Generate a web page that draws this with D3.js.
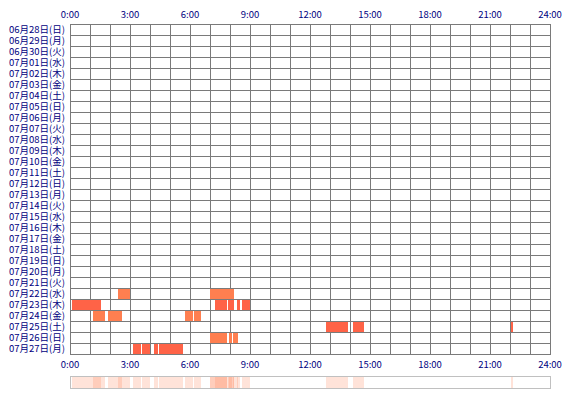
<!DOCTYPE html>
<html>
<head>
<meta charset="utf-8">
<script src="https://cdn.jsdelivr.net/npm/d3@7"></script>
<style>
  body { margin: 0; background: #fff; }
  svg text { font-family: "Noto Sans CJK JP", "DejaVu Sans", sans-serif; fill: #000080; }
</style>
</head>
<body>
<svg id="chart" width="570" height="400"></svg>
<script>
// date rows, top to bottom
const dayLabels = [
    "06月28日(日)", "06月29日(月)", "06月30日(火)", "07月01日(水)", "07月02日(木)",
    "07月03日(金)", "07月04日(土)", "07月05日(日)", "07月06日(月)", "07月07日(火)",
    "07月08日(水)", "07月09日(木)", "07月10日(金)", "07月11日(土)", "07月12日(日)",
    "07月13日(月)", "07月14日(火)", "07月15日(水)", "07月16日(木)", "07月17日(金)",
    "07月18日(土)", "07月19日(日)", "07月20日(月)", "07月21日(火)", "07月22日(水)",
    "07月23日(木)", "07月24日(金)", "07月25日(土)", "07月26日(日)", "07月27日(月)"
];

const hourTicks = [0, 3, 6, 9, 12, 15, 18, 21, 24];

// [day, start hour, end hour]
const sessions = [
    ["07月22日(水)", 2.42, 3.0], ["07月22日(水)", 7.0, 8.2],
    ["07月23日(木)", 0.1, 1.55], ["07月23日(木)", 7.25, 7.85], ["07月23日(木)", 7.9, 8.2],
    ["07月23日(木)", 8.35, 8.5], ["07月23日(木)", 8.58, 9.0],
    ["07月24日(金)", 1.15, 1.75], ["07月24日(金)", 1.9, 2.6], ["07月24日(金)", 5.75, 6.15],
    ["07月24日(金)", 6.2, 6.55],
    ["07月25日(土)", 12.8, 13.9], ["07月25日(土)", 14.15, 14.7], ["07月25日(土)", 22.05, 22.15],
    ["07月26日(日)", 7.0, 7.85], ["07月26日(日)", 7.95, 8.1], ["07月26日(日)", 8.15, 8.4],
    ["07月27日(月)", 3.15, 3.55], ["07月27日(月)", 3.6, 4.0], ["07月27日(月)", 4.2, 4.4],
    ["07月27日(月)", 4.45, 5.65]
];

const svg = d3.select("#chart");

const x = d3.scaleLinear().domain([0, 24]).range([70, 550]);
const y = d3.scaleBand().domain(dayLabels).range([24, 354]).padding(0);

// row colours alternate
const rowColor = d => dayLabels.indexOf(d) % 2 === 0 ? "#ff7f50" : "#ff6347";

// GRID
const grid = svg.append("g").attr("shape-rendering", "crispEdges").attr("stroke", "#7a7a7a");
grid.selectAll("line.v")
    .data(d3.range(0, 25))
    .enter().append("line")
    .attr("x1", d => Math.round(x(d)) + 0.5)
    .attr("x2", d => Math.round(x(d)) + 0.5)
    .attr("y1", y.range()[0])
    .attr("y2", y.range()[1] + 1);
grid.selectAll("line.h")
    .data(dayLabels.map(d => y(d)).concat([y.range()[1]]))
    .enter().append("line")
    .attr("x1", x(0))
    .attr("x2", x(24) + 1)
    .attr("y1", d => Math.round(d) + 0.5)
    .attr("y2", d => Math.round(d) + 0.5);

// SESSION BARS
svg.append("g").attr("shape-rendering", "crispEdges")
    .selectAll("rect")
    .data(sessions)
    .enter().append("rect")
    .attr("x", d => x(d[1]))
    .attr("width", d => x(d[2]) - x(d[1]))
    .attr("y", d => Math.round(y(d[0])) + 1)
    .attr("height", Math.round(y.bandwidth()) - 1)
    .attr("fill", d => rowColor(d[0]));

// ROW LABELS
svg.append("g")
    .selectAll("text")
    .data(dayLabels)
    .enter().append("text")
    .attr("x", 65)
    .attr("y", d => y(d) + y.bandwidth() / 2)
    .attr("dy", "0.36em")
    .attr("text-anchor", "end")
    .attr("font-size", "9.5px")
    .text(d => d);

// TIME AXES (top and bottom)
[15, 365].forEach(ty => {
    svg.append("g")
        .selectAll("text")
        .data(hourTicks)
        .enter().append("text")
        .attr("x", d => x(d))
        .attr("y", ty)
        .attr("dy", "0.35em")
        .attr("text-anchor", "middle")
        .attr("font-size", "9.5px")
        .text(d => d + ":00");
});

// SUMMARY STRIP
const strip = svg.append("g").attr("shape-rendering", "crispEdges");
strip.selectAll("rect.s")
    .data(sessions)
    .enter().append("rect")
    .attr("x", d => x(d[1]))
    .attr("width", d => x(d[2]) - x(d[1]))
    .attr("y", 377)
    .attr("height", 11)
    .attr("fill", "#ff7f50")
    .attr("fill-opacity", 0.22);
strip.append("rect")
    .attr("x", x(0) + 0.5)
    .attr("y", 376.5)
    .attr("width", x(24) - x(0))
    .attr("height", 12)
    .attr("fill", "none")
    .attr("stroke", "#c0c0c0");
</script>
</body>
</html>
